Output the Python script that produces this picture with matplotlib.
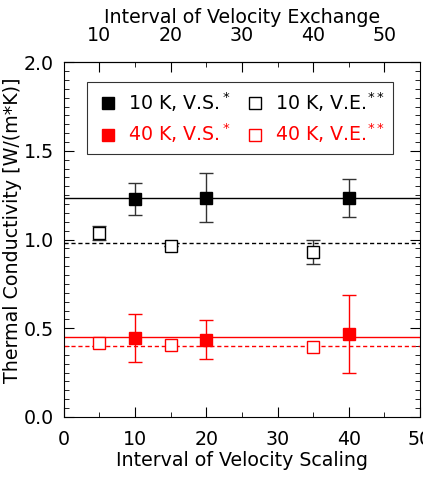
import matplotlib
matplotlib.use("Agg")
import matplotlib.pyplot as plt
from matplotlib.lines import Line2D
from matplotlib.ticker import MultipleLocator

# velocity scaling (filled squares)
vs_x = [10, 20, 40]
vs_10k = [1.226, 1.235, 1.232]
vs_10k_lo = [1.136, 1.100, 1.127]
vs_10k_hi = [1.317, 1.373, 1.341]
vs_40k = [0.445, 0.436, 0.468]
vs_40k_lo = [0.308, 0.327, 0.248]
vs_40k_hi = [0.580, 0.545, 0.689]

# velocity exchange (open squares), plotted on bottom scale (top value - 5)
ve_x = [5, 15, 35]
ve_10k = [1.038, 0.963, 0.928]
ve_10k_lo = [0.995, 0.963, 0.860]
ve_10k_hi = [1.076, 0.963, 0.997]
ve_40k = [0.415, 0.404, 0.394]

mean_vs_10k = 1.232
mean_ve_10k = 0.978
mean_vs_40k = 0.449
mean_ve_40k = 0.402

plt.rcParams['font.family'] = 'DejaVu Sans'
plt.rcParams['font.size'] = 13.7

fig = plt.figure(figsize=(4.23, 4.82), dpi=100)
ax = fig.add_axes([0.151, 0.135, 0.842, 0.736])

def yerr(v, lo, hi):
    return [[a - b for a, b in zip(v, lo)], [c - a for a, c in zip(v, hi)]]

ax.axhline(mean_vs_10k, color='black', lw=1)
ax.axhline(mean_ve_10k, color='black', lw=1, ls=(0, (3, 2)))
ax.axhline(mean_vs_40k, color='red', lw=1)
ax.axhline(mean_ve_40k, color='red', lw=1, ls=(0, (3, 2)))

ms = 9.3
ax.errorbar(vs_x, vs_10k, yerr=yerr(vs_10k, vs_10k_lo, vs_10k_hi), fmt='s',
            ms=ms, color='black', ecolor='#333333', elinewidth=1, capsize=5,
            zorder=3)
ax.errorbar(ve_x, ve_10k, yerr=yerr(ve_10k, ve_10k_lo, ve_10k_hi), fmt='s',
            ms=ms, mfc='white', mec='black', mew=1, ecolor='#333333',
            elinewidth=1, capsize=5, zorder=3)
ax.errorbar(vs_x, vs_40k, yerr=yerr(vs_40k, vs_40k_lo, vs_40k_hi), fmt='s',
            ms=ms, color='red', ecolor='red', elinewidth=1, capsize=5,
            zorder=3)
ax.plot(ve_x, ve_40k, 's', ms=ms, mfc='white', mec='red', mew=1, zorder=3)

ax.set_xlim(0, 50)
ax.set_ylim(0, 2.0)
ax.xaxis.set_major_locator(MultipleLocator(10))
ax.xaxis.set_minor_locator(MultipleLocator(5))
ax.yaxis.set_major_locator(MultipleLocator(0.5))
ax.yaxis.set_minor_locator(MultipleLocator(0.05))
ax.tick_params(which='both', direction='in', right=True)
ax.tick_params(which='major', length=7)
ax.tick_params(which='minor', length=3.5)
ax.tick_params(axis='x', which='both', pad=9.5)
ax.tick_params(axis='y', which='both', pad=7)
ax.set_xlabel('Interval of Velocity Scaling', labelpad=1)
ax.set_ylabel('Thermal Conductivity [W/(m*K)]')
ax.yaxis.set_label_coords(-0.118, 0.527)

top = ax.secondary_xaxis('top', functions=(lambda x: x + 5, lambda x: x - 5))
top.xaxis.set_major_locator(MultipleLocator(10))
top.xaxis.set_minor_locator(MultipleLocator(5))
top.tick_params(which='both', direction='in', pad=12.5)
top.tick_params(which='major', length=7)
top.tick_params(which='minor', length=3.5)
top.set_xlabel('Interval of Velocity Exchange', labelpad=2)

# legend, column order: V.S. entries left, V.E. entries right
handles = [
    Line2D([], [], ls='none', marker='s', ms=ms, color='black'),
    Line2D([], [], ls='none', marker='s', ms=ms, color='red'),
    Line2D([], [], ls='none', marker='s', ms=ms, mfc='white', mec='black', mew=1),
    Line2D([], [], ls='none', marker='s', ms=ms, mfc='white', mec='red', mew=1),
]
labels = ['10 K, V.S.$^*$', '40 K, V.S.$^*$', '10 K, V.E.$^{**}$', '40 K, V.E.$^{**}$']
leg = ax.legend(handles, labels, ncol=2, loc='upper left',
                bbox_to_anchor=(0.065, 0.944), borderaxespad=0,
                fancybox=False, edgecolor='black', handletextpad=0.4,
                columnspacing=0.6, handlelength=1.3, labelspacing=0.4,
                borderpad=0.45, fontsize=13.7)
leg.get_frame().set_linewidth(0.8)
for text, col in zip(leg.get_texts(), ['black', 'red', 'black', 'red']):
    text.set_color(col)

fig.savefig('out.png', dpi=100)
